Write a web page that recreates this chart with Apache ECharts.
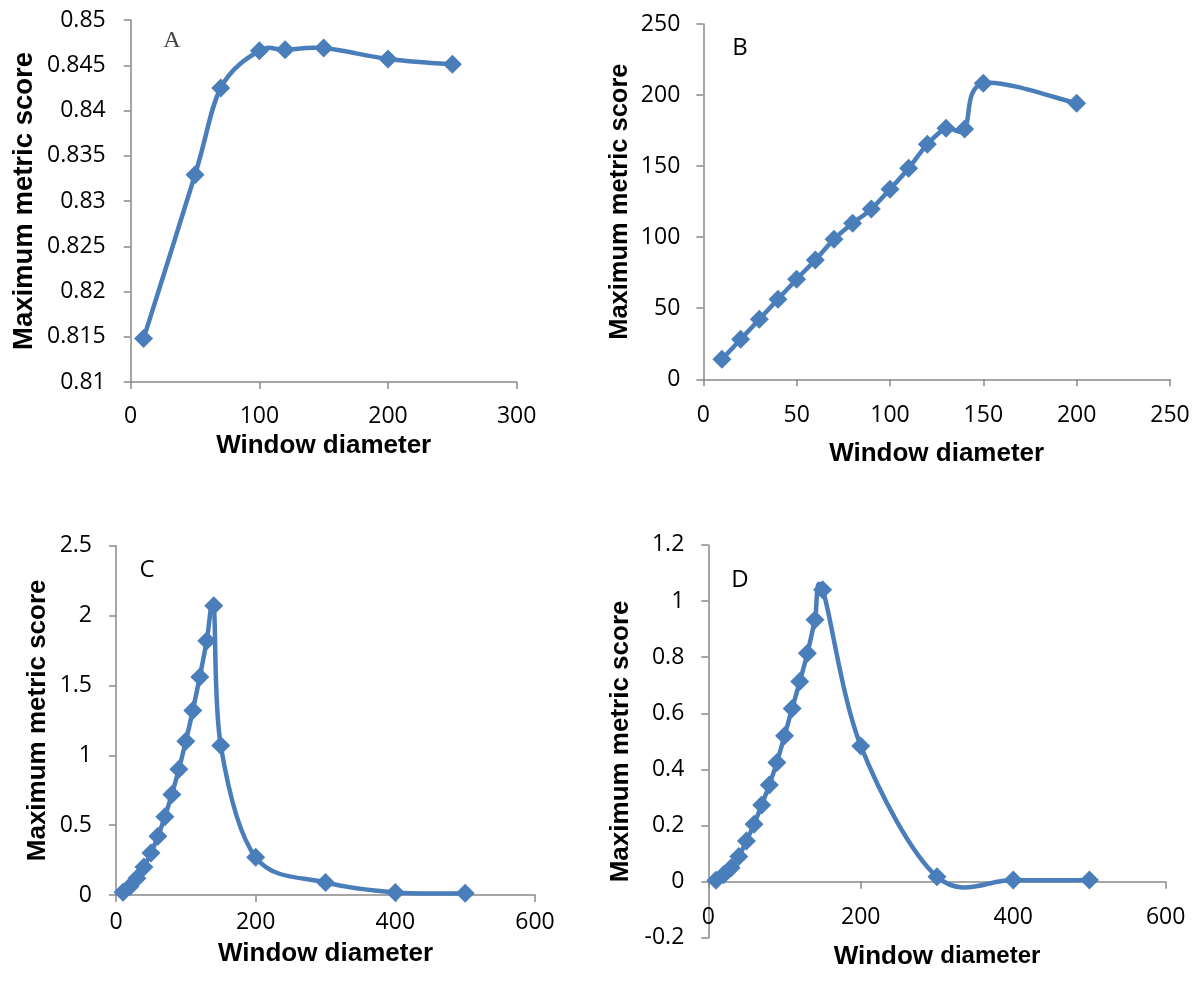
<!DOCTYPE html>
<html>
<head>
<meta charset="utf-8">
<script src="https://cdn.jsdelivr.net/npm/echarts@6/dist/echarts.min.js"></script>
<style>
  html, body { margin: 0; padding: 0; background: #fff; }
  #chart { width: 1200px; height: 983px; }
</style>
</head>
<body>
<div id="chart"></div>
<script>
// Panel A
const diamA = [10, 50, 70, 100, 120, 150, 200, 250];
const scoreA = [0.8148, 0.8329, 0.8425, 0.8466, 0.8467, 0.8469, 0.8457, 0.8451];

// Panel B
const diamB = [10, 20, 30, 40, 50, 60, 70, 80, 90, 100, 110, 120, 130, 140, 150, 200];
const scoreB = [14.1, 28.1, 42.2, 56.3, 70.4, 84, 98.5, 109.8, 119.8, 133.7, 148.5, 165.4, 176.6, 176.1, 208.3, 194.2];

// Panels C and D share the same window diameters
const diamCD = [10, 20, 30, 40, 50, 60, 70, 80, 90, 100, 110, 120, 130, 140, 150, 200, 300, 400, 500];
const scoreC = [0.02, 0.06, 0.12, 0.2, 0.3, 0.42, 0.56, 0.72, 0.9, 1.1, 1.32, 1.56, 1.82, 2.07, 1.07, 0.27, 0.09, 0.018, 0.012];
const scoreD = [0.005, 0.025, 0.05, 0.09, 0.145, 0.205, 0.273, 0.345, 0.425, 0.52, 0.617, 0.713, 0.814, 0.933, 1.04, 0.484, 0.018, 0.006, 0.006];

const panelLetters = ['A', 'B', 'C', 'D'];

const blue = '#4a7ebb';
const axisGray = '#898989';

const chart = echarts.init(document.getElementById('chart'), null, { renderer: 'canvas' });

// grid boxes and axis settings, one per panel
const panels = [
  { grid: { left: 130.7, top: 20, width: 386, height: 362 },
    x: { max: 300, interval: 100 }, y: { min: 0.81, max: 0.85, interval: 0.005 },
    xOffset: 0, xLabelMargin: 23, xNameGap: 51, yLabelMargin: 25, yNameGap: 92, yNameSize: 27.5 },
  { grid: { left: 703.3, top: 24, width: 466.7, height: 355.3 },
    x: { max: 250, interval: 50 }, y: { min: 0, max: 250, interval: 50 },
    xOffset: 0, xLabelMargin: 25, xNameGap: 62, yLabelMargin: 23, yNameGap: 70, yNameSize: 25.5 },
  { grid: { left: 116, top: 545.7, width: 419, height: 349.3 },
    x: { max: 600, interval: 200 }, y: { min: 0, max: 2.5, interval: 0.5 },
    xOffset: 0, xLabelMargin: 16, xNameGap: 46, yLabelMargin: 24, yNameGap: 65, yNameSize: 26 },
  // D: horizontal axis crosses at 0, the value axis runs down to -0.2
  { grid: { left: 708.3, top: 544.9, width: 457.4, height: 393 },
    x: { max: 600, interval: 200 }, y: { min: -0.2, max: 1.2, interval: 0.2 },
    xOffset: -56.2, xLabelMargin: 24, xNameGap: 62, yLabelMargin: 24, yNameGap: 74, yNameSize: 26 }
];

const xs = [diamA, diamB, diamCD, diamCD];
const ys = [scoreA, scoreB, scoreC, scoreD];
const seriesData = xs.map((x, i) => x.map((d, k) => [d, ys[i][k]]));

// Excel-style smoothed line: cubic segments with Catmull-Rom control points (1/6 of neighbour span),
// computed on pixel positions given by the axes.
function smoothLine(xv, yv) {
  return function (params, api) {
    if (params.dataIndex !== 0) return null;
    const pts = xv.map((x, k) => api.coord([x, yv[k]]));
    const n = pts.length;
    const children = [];
    for (let k = 0; k < n - 1; k++) {
      const p0 = pts[Math.max(k - 1, 0)];
      const p1 = pts[k];
      const p2 = pts[k + 1];
      const p3 = pts[Math.min(k + 2, n - 1)];
      children.push({
        type: 'bezierCurve',
        shape: {
          x1: p1[0], y1: p1[1],
          cpx1: p1[0] + (p2[0] - p0[0]) / 6, cpy1: p1[1] + (p2[1] - p0[1]) / 6,
          cpx2: p2[0] - (p3[0] - p1[0]) / 6, cpy2: p2[1] - (p3[1] - p1[1]) / 6,
          x2: p2[0], y2: p2[1]
        },
        style: { stroke: blue, lineWidth: 4.5, fill: 'none', lineCap: 'round', lineJoin: 'round' }
      });
    }
    return { type: 'group', children: children };
  };
}

const axisTick = { show: true, length: 7, lineStyle: { color: axisGray, width: 1.5 } };
const tickFont = { fontFamily: 'Open Sans', fontSize: 23, color: '#000' };

const lineSeries = seriesData.map((data, i) => ({
  type: 'custom',
  coordinateSystem: 'cartesian2d',
  xAxisIndex: i,
  yAxisIndex: i,
  data: data,
  encode: { x: 0, y: 1 },
  renderItem: smoothLine(xs[i], ys[i]),
  z: 2,
  silent: true
}));

const markerSeries = seriesData.map((data, i) => ({
  type: 'scatter',
  xAxisIndex: i,
  yAxisIndex: i,
  data: data,
  symbol: 'diamond',
  symbolSize: 19,
  clip: false,
  itemStyle: { color: blue, opacity: 1 },
  z: 3
}));

const option = {
  animation: false,
  backgroundColor: '#fff',
  grid: panels.map(p => Object.assign({ containLabel: false, outerBoundsMode: 'none' }, p.grid)),
  xAxis: panels.map((p, i) => ({
    type: 'value',
    gridIndex: i,
    min: 0,
    max: p.x.max,
    interval: p.x.interval,
    offset: p.xOffset,
    name: i === 3 ? '{a|Window} {b|diameter}' : 'Window diameter',
    nameLocation: 'middle',
    nameGap: p.xNameGap,
    nameMoveOverlap: false,
    nameTextStyle: {
      fontFamily: 'Liberation Sans', fontWeight: 'bold', fontSize: 26, color: '#000',
      rich: {
        a: { fontFamily: 'Liberation Sans', fontWeight: 'bold', fontSize: 26, color: '#000' },
        b: { fontFamily: 'Liberation Sans', fontWeight: 'bold', fontSize: 24, color: '#000' }
      }
    },
    axisLine: { show: true, onZero: false, lineStyle: { color: axisGray, width: 1.5 } },
    axisTick: axisTick,
    axisLabel: Object.assign({ margin: p.xLabelMargin }, tickFont),
    splitLine: { show: false }
  })),
  yAxis: panels.map((p, i) => ({
    type: 'value',
    gridIndex: i,
    min: p.y.min,
    max: p.y.max,
    interval: p.y.interval,
    name: 'Maximum metric score',
    nameLocation: 'middle',
    nameGap: p.yNameGap,
    nameMoveOverlap: false,
    nameTextStyle: { fontFamily: 'Liberation Sans', fontWeight: 'bold', fontSize: p.yNameSize, color: '#000' },
    axisLine: { show: true, onZero: false, lineStyle: { color: axisGray, width: 1.5 } },
    axisTick: axisTick,
    axisLabel: Object.assign({ margin: p.yLabelMargin }, tickFont),
    splitLine: { show: false }
  })),
  series: lineSeries.concat(markerSeries),
  graphic: [
    { type: 'text', x: 172, y: 41, style: { text: panelLetters[0], fontFamily: 'Liberation Serif', fontSize: 24, fill: '#444', textAlign: 'center', textVerticalAlign: 'middle' } },
    { type: 'text', x: 740, y: 48, style: { text: panelLetters[1], fontFamily: 'Open Sans', fontSize: 24, fill: '#000', textAlign: 'center', textVerticalAlign: 'middle' } },
    { type: 'text', x: 147, y: 570, style: { text: panelLetters[2], fontFamily: 'Open Sans', fontSize: 24, fill: '#000', textAlign: 'center', textVerticalAlign: 'middle' } },
    { type: 'text', x: 740, y: 580, style: { text: panelLetters[3], fontFamily: 'Open Sans', fontSize: 24, fill: '#000', textAlign: 'center', textVerticalAlign: 'middle' } }
  ]
};

chart.setOption(option);
</script>
</body>
</html>
